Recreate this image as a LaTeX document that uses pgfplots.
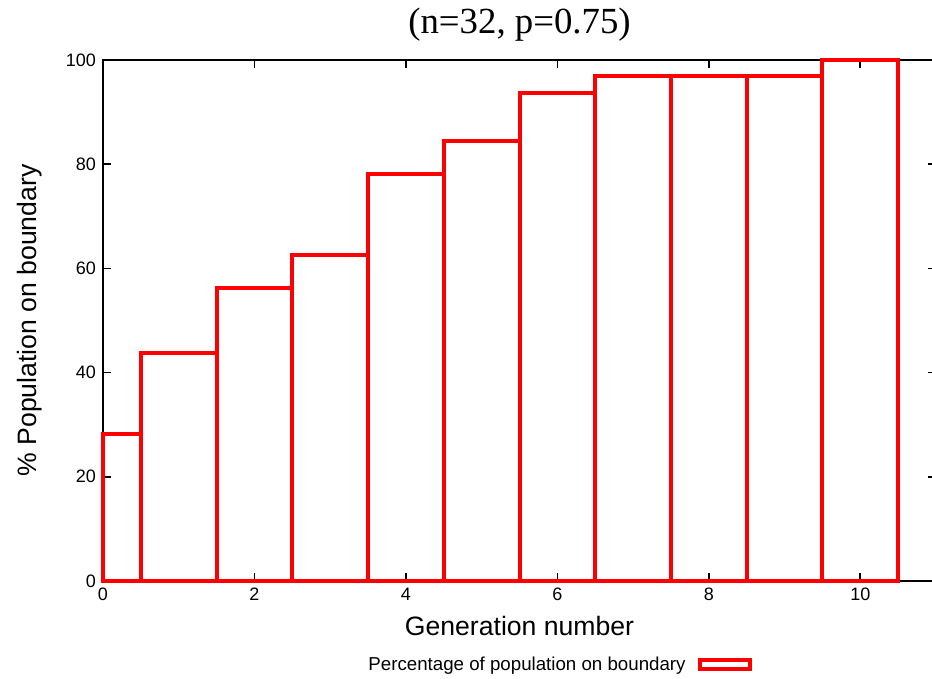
\documentclass[border=0pt]{standalone}
\usepackage{fontspec}
\setmainfont{Liberation Sans}
\newfontfamily\timesfont{Liberation Serif}
\usepackage{pgfplots}
\pgfplotsset{compat=1.18}
\begin{document}
\begin{tikzpicture}
\begin{axis}[
  at={(0,0)}, anchor=south west,
  scale only axis, width=416.5pt, height=260.5pt,
  xmin=0, xmax=11, ymin=0, ymax=100,
  xtick={0,2,...,10}, ytick={0,20,...,100},
  clip=false,
  axis line style={line width=1pt, black},
  tick style={line width=0.8pt, black},
  major tick length=4pt,
  tick align=inside,
  /pgf/number format/assume math mode=true,
  tick label style={font=\fontsize{9}{10}\selectfont},
  xlabel={Generation number},
  ylabel={\% Population on boundary},
  label style={font=\fontsize{13.3}{15}\selectfont},
  xlabel style={at={(axis description cs:0.5,-0.0864)}, anchor=center},
  ylabel style={at={(axis description cs:-0.0876,0.5)}, anchor=center},
  title={(n=32, p=0.75)},
  title style={at={(axis description cs:0.5,1.044)}, anchor=center, font=\timesfont\fontsize{18.4}{20}\selectfont},
  legend style={at={(axis description cs:0.7791,-0.161)}, anchor=east, draw=none, fill=none, inner sep=0pt, font=\fontsize{9.35}{10}\selectfont},
  legend plot pos=right,
  legend cell align=right,
  legend image code/.code={\path (0pt,0pt); \draw[#1, line width=2pt] (4pt,-2.25pt) rectangle (29pt,2.25pt);},
]
\addplot[ybar interval, draw=red, line width=2pt, fill=none] coordinates {
  (0,28.125) (0.5,43.75) (1.5,56.25) (2.5,62.5) (3.5,78.125) (4.5,84.375)
  (5.5,93.75) (6.5,96.875) (7.5,96.875) (8.5,96.875) (9.5,100) (10.5,100)
};
\addlegendentry{Percentage of population on boundary}
\end{axis}
\pgfresetboundingbox
\useasboundingbox (-51.5pt,-49pt) rectangle (414.5pt,290.5pt);
\end{tikzpicture}
\end{document}
